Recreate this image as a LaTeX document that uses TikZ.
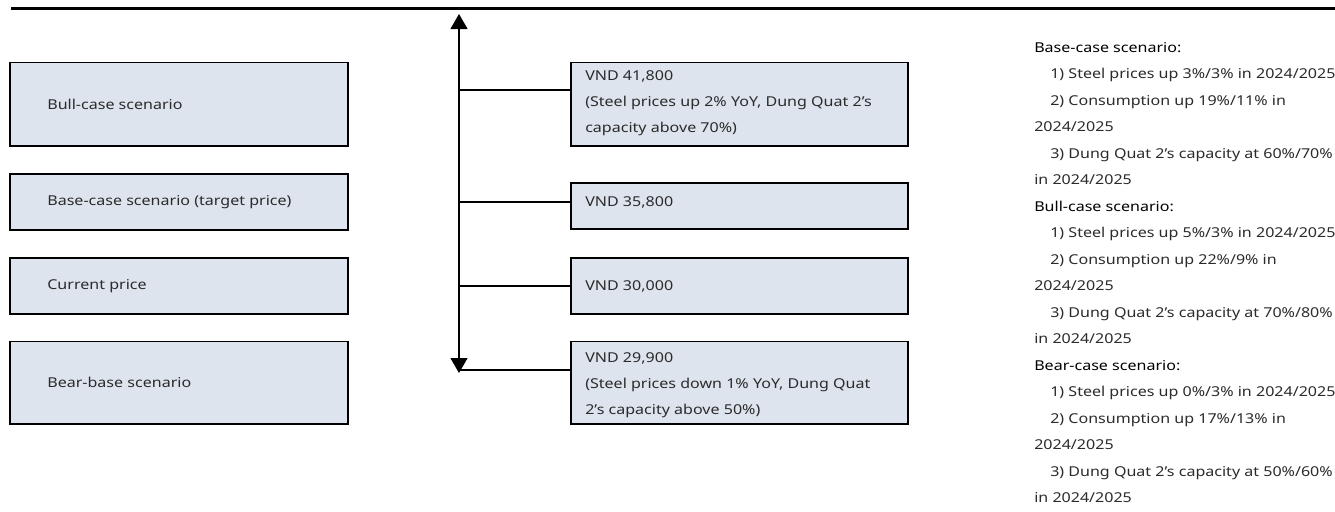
\documentclass[tikz,border=0pt]{standalone}
\usepackage{fontspec}
\setmainfont{Noto Sans}[FakeStretch=1.18]
\usetikzlibrary{arrows.meta}
\definecolor{boxfill}{HTML}{DEE4EE}
\definecolor{ink}{HTML}{2B2B2B}
\begin{document}
\begin{tikzpicture}[x=0.75pt,y=-0.75pt,
  font=\fontsize{10.2pt}{19.5pt}\selectfont,
  box/.style={draw=black, line width=1.4pt, fill=boxfill, inner sep=0pt},
  lbox/.style={box, minimum width=253.5pt},
  rbox/.style={box, minimum width=252.75pt},
  txt/.style={text=ink, inner sep=0pt, align=left, anchor=west},
  note/.style={text=ink, inner sep=0pt, anchor=base west},
  head/.style={note, text=black},
  conn/.style={line width=1.5pt},
  axis/.style={line width=0.8pt, {Triangle[length=11.25pt,width=12.75pt]}-{Triangle[length=11.25pt,width=12.75pt]}}]

\useasboundingbox (0,0) rectangle (1335,511);

% header rule
\coordinate (ruleL) at (11,8.5);
\coordinate (ruleR) at (1335,8.5);
\draw[line width=1.6pt] (ruleL) -- (ruleR);

% scenario boxes (left)
\node[lbox, minimum height=62.6pt] (bull) at (179,104.25) {};
\node[lbox, minimum height=42pt]   (base) at (179,202) {};
\node[lbox, minimum height=42pt]   (curr) at (179,286) {};
\node[lbox, minimum height=61.9pt] (bear) at (179,382.75) {};
\node[txt] (bullt) at ([xshift=28.5pt]bull.west) {Bull-case scenario};
\node[txt] (baset) at ([xshift=28.5pt]base.west) {Base-case scenario (target price)};
\node[txt] (currt) at ([xshift=28.5pt]curr.west) {Current price};
\node[txt] (beart) at ([xshift=28.5pt]bear.west) {Bear-base scenario};

% price boxes (right)
\node[rbox, minimum height=62.6pt] (pbull) at (739.5,104.25) {};
\node[rbox, minimum height=34.5pt] (pbase) at (739.5,206) {};
\node[rbox, minimum height=42pt]   (pcurr) at (739.5,286) {};
\node[rbox, minimum height=61.9pt] (pbear) at (739.5,382.75) {};
\node[txt] (pbullt) at (585,103) {VND 41,800\\(Steel prices up 2\% YoY, Dung Quat 2’s\\capacity above 70\%)};
\node[txt] (pbaset) at (585,202) {VND 35,800};
\node[txt] (pcurrt) at (585,286) {VND 30,000};
\node[txt] (pbeart) at (585,385) {VND 29,900\\(Steel prices down 1\% YoY, Dung Quat\\2’s capacity above 50\%)};

% price axis with branches
\coordinate (axtop) at (459,14);
\coordinate (axbot) at (459,373);
\draw[axis] (axbot) -- (axtop);
\coordinate (b1) at (459,90);
\coordinate (b2) at (459,202);
\coordinate (b3) at (459,286);
\coordinate (b4) at (459,370);
\draw[conn] (b1) -- (b1 -| pbull.west);
\draw[conn] (b2) -- (b2 -| pbase.west);
\draw[conn] (b3) -- (b3 -| pcurr.west);
\draw[conn] (b4) -- (b4 -| pbear.west);

% assumptions
\node[head] (h1)  at (1034,52.0)  {Base-case scenario:};
\node[note] (n1)  at (1050,78.5)  {1) Steel prices up 3\%/3\% in 2024/2025};
\node[note] (n2)  at (1050,105.0) {2) Consumption up 19\%/11\% in};
\node[note] (n3)  at (1034,131.5) {2024/2025};
\node[note] (n4)  at (1050,158.0) {3) Dung Quat 2’s capacity at 60\%/70\%};
\node[note] (n5)  at (1034,184.5) {in 2024/2025};
\node[head] (h2)  at (1034,211.0) {Bull-case scenario:};
\node[note] (n6)  at (1050,237.5) {1) Steel prices up 5\%/3\% in 2024/2025};
\node[note] (n7)  at (1050,264.0) {2) Consumption up 22\%/9\% in};
\node[note] (n8)  at (1034,290.5) {2024/2025};
\node[note] (n9)  at (1050,317.0) {3) Dung Quat 2’s capacity at 70\%/80\%};
\node[note] (n10) at (1034,343.5) {in 2024/2025};
\node[head] (h3)  at (1034,370.0) {Bear-case scenario:};
\node[note] (n11) at (1050,396.5) {1) Steel prices up 0\%/3\% in 2024/2025};
\node[note] (n12) at (1050,423.0) {2) Consumption up 17\%/13\% in};
\node[note] (n13) at (1034,449.5) {2024/2025};
\node[note] (n14) at (1050,476.0) {3) Dung Quat 2’s capacity at 50\%/60\%};
\node[note] (n15) at (1034,502.5) {in 2024/2025};
\end{tikzpicture}
\end{document}
